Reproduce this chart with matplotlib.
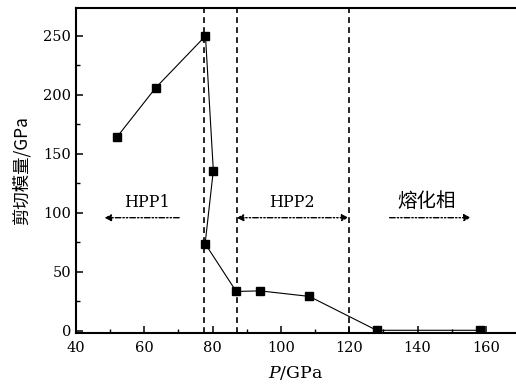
import matplotlib
matplotlib.use('Agg')
import matplotlib.pyplot as plt
from matplotlib.ticker import MultipleLocator

plt.rcParams['font.family'] = ['DejaVu Serif', 'Noto Sans CJK SC']
plt.rcParams['mathtext.fontset'] = 'dejavuserif'

# 剪切模量随压力的变化
pressure = [51.9, 63.3, 77.9, 80.2, 77.8, 86.9, 93.9, 108.3, 128.0, 158.4]
shear_mod = [164, 206, 250, 136, 74, 33.5, 34, 29.3, 0.6, 0.6]

# 相边界
boundaries = [77.4, 87.0, 119.8]

fig = plt.figure(figsize=(5.16, 3.89), dpi=100)
ax = fig.add_axes([76/516, 1-333/389, 440/516, 325/389])

for b in boundaries:
    ax.axvline(b, color='black', lw=1.2, ls=(0, (3.5, 2.5)))

ax.plot(pressure, shear_mod, color='black', lw=0.8, marker='s', ms=5.6,
        mfc='black', mec='black')

arrow_ls = (0, (4, 1.5, 1, 1.5, 1, 1.5))
def arrow(x0, x1, y, style):
    ax.annotate('', xy=(x1, y), xytext=(x0, y),
                arrowprops=dict(arrowstyle=style, color='black', lw=1.0,
                                ls=arrow_ls, shrinkA=0, shrinkB=0,
                                mutation_scale=10))

arrow(70.2, 48.3, 96, '-|>')
arrow(87.0, 119.8, 96, '<|-|>')
arrow(131.8, 155.6, 96, '-|>')

ax.text(60.7, 109, 'HPP1', ha='center', va='center', fontsize=11.5)
ax.text(103.2, 109, 'HPP2', ha='center', va='center', fontsize=11.5)
ax.text(142.6, 110, '熔化相', ha='center', va='center', fontsize=14,
        family=['Noto Sans CJK SC'])

ax.set_xlim(40, 168.8)
ax.set_ylim(-1.7, 273.7)
ax.xaxis.set_major_locator(MultipleLocator(20))
ax.xaxis.set_minor_locator(MultipleLocator(10))
ax.yaxis.set_major_locator(MultipleLocator(50))
ax.yaxis.set_minor_locator(MultipleLocator(25))
ax.tick_params(which='both', direction='in', labelsize=10.5)
ax.tick_params(which='major', length=5, width=1.1)
ax.tick_params(which='minor', length=3, width=1.0)
ax.tick_params(axis='x', pad=6)
ax.spines['right'].set_visible(False)
for s in ['left', 'bottom', 'top']:
    ax.spines[s].set_linewidth(1.5)

ax.set_xlabel('$P$/GPa', fontsize=12.5, labelpad=6)
ax.set_ylabel('剪切模量/GPa', fontsize=12.5, labelpad=9,
              family=['Noto Sans CJK SC', 'DejaVu Serif'])

fig.savefig('out.png', dpi=100)
